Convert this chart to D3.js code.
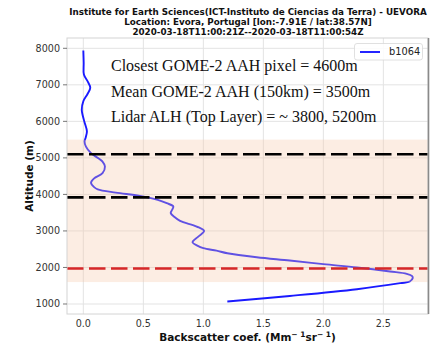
<!DOCTYPE html>
<html>
<head>
<meta charset="utf-8">
<script src="https://cdn.jsdelivr.net/npm/d3@7"></script>
<style>
  html, body { margin: 0; padding: 0; background: #fff; }
  svg { display: block; }
</style>
</head>
<body>
<svg id="chart" width="435" height="344"></svg>
<script>
// Lidar backscatter profile at 1064 nm, Evora
const altitude = [7940, 7600, 7280, 7100, 6920, 6750, 6550, 6320, 6000, 5730, 5560, 5450, 5310, 5130,
  4900, 4760, 4580, 4440, 4320, 4200, 4140, 4050, 3960, 3850, 3760, 3670, 3580, 3490, 3380, 3275,
  3120, 3000, 2845, 2690, 2600, 2530, 2460, 2390, 2280, 2190, 2090, 2000, 1890, 1825, 1760, 1710,
  1615, 1570, 1405, 1220, 1070];
const backscatter = [0.00, 0.003, 0.005, 0.035, 0.058, 0.035, 0.00, -0.013, 0.008, 0.03, 0.02, 0.01, 0.022, 0.064,
  0.16, 0.18, 0.16, 0.09, 0.064, 0.09, 0.12, 0.27, 0.47, 0.62, 0.695, 0.75, 0.74, 0.728, 0.76, 0.806,
  0.945, 1.006, 0.958, 0.91, 0.95, 1.0, 1.11, 1.2, 1.445, 1.72, 2.0, 2.28, 2.556, 2.695, 2.74, 2.745,
  2.72, 2.64, 2.28, 1.72, 1.2];
const seriesName = "b1064";

// Aerosol layer band and reference heights
const layerBand = [1600, 5500];
const layerTops = [5100, 3920];
const gomeHeight = [1970];

const xTicks = [0.0, 0.5, 1.0, 1.5, 2.0, 2.5];
const yTicks = [1000, 2000, 3000, 4000, 5000, 6000, 7000, 8000];

const titleLines = [
  "Institute for Earth Sciences(ICT-Instituto de Ciencias da Terra) - UEVORA",
  "Location: Evora, Portugal [lon:-7.91E / lat:38.57N]",
  "2020-03-18T11:00:21Z--2020-03-18T11:00:54Z"
];
const notes = [
  "Closest GOME-2 AAH pixel = 4600m",
  "Mean GOME-2 AAH (150km) = 3500m",
  "Lidar ALH (Top Layer) = ~ 3800, 5200m"
];

const svg = d3.select("#chart");
const plot = { left: 67, right: 428, top: 38, bottom: 314 };

const x = d3.scaleLinear().domain([-0.136, 2.872]).range([plot.left, plot.right]);
const y = d3.scaleLinear().domain([726, 8282]).range([plot.bottom, plot.top]);

const sans = "'DejaVu Sans', sans-serif";

// Grid
const grid = svg.append("g");
grid.selectAll("line.gx").data(xTicks).join("line")
  .attr("x1", d => x(d)).attr("x2", d => x(d))
  .attr("y1", plot.top).attr("y2", plot.bottom)
  .attr("stroke", "#e3e3e3").attr("stroke-width", 1);
grid.selectAll("line.gy").data(yTicks).join("line")
  .attr("x1", plot.left).attr("x2", plot.right)
  .attr("y1", d => y(d)).attr("y2", d => y(d))
  .attr("stroke", "#e3e3e3").attr("stroke-width", 1);

// Profile line
const pts = altitude.map((a, i) => ({ a, v: backscatter[i] }));
const line = d3.line().x(d => x(d.v)).y(d => y(d.a)).curve(d3.curveCatmullRom.alpha(0.5));
svg.append("path").datum(pts)
  .attr("d", line)
  .attr("fill", "none")
  .attr("stroke", "#1a1aff")
  .attr("stroke-width", 1.9)
  .attr("stroke-linejoin", "round");

// Shaded layer band, drawn over the profile
svg.append("rect")
  .attr("x", plot.left).attr("width", plot.right - plot.left)
  .attr("y", y(layerBand[1])).attr("height", y(layerBand[0]) - y(layerBand[1]))
  .attr("fill", "#f7c8a8").attr("fill-opacity", 0.32);

// Dashed reference lines
svg.selectAll("line.top").data(layerTops).join("line")
  .attr("x1", plot.left).attr("x2", plot.right)
  .attr("y1", d => y(d)).attr("y2", d => y(d))
  .attr("stroke", "#000").attr("stroke-width", 2.6)
  .attr("stroke-dasharray", "16.5,5.5");
svg.selectAll("line.gome").data(gomeHeight).join("line")
  .attr("x1", plot.left).attr("x2", plot.right)
  .attr("y1", d => y(d)).attr("y2", d => y(d))
  .attr("stroke", "#d62728").attr("stroke-width", 2.6)
  .attr("stroke-dasharray", "16.5,5.5");

// Frame
svg.append("rect")
  .attr("x", plot.left).attr("y", plot.top)
  .attr("width", plot.right - plot.left).attr("height", plot.bottom - plot.top)
  .attr("fill", "none").attr("stroke", "#d4d4d4").attr("stroke-width", 1);
svg.append("line")
  .attr("x1", plot.right + 0.5).attr("x2", plot.right + 0.5)
  .attr("y1", plot.top).attr("y2", plot.bottom)
  .attr("stroke", "#8a8a8a").attr("stroke-width", 1.6);

// Y axis ticks and labels
const yAxis = svg.append("g");
yAxis.selectAll("line").data(yTicks).join("line")
  .attr("x1", plot.left - 4).attr("x2", plot.left)
  .attr("y1", d => y(d)).attr("y2", d => y(d))
  .attr("stroke", "#555").attr("stroke-width", 0.8);
yAxis.selectAll("text").data(yTicks).join("text")
  .attr("x", plot.left - 7).attr("y", d => y(d))
  .attr("dy", "0.36em").attr("text-anchor", "end")
  .attr("font-family", sans).attr("font-size", 9.6).attr("fill", "#333")
  .text(d => d);

// X axis labels
svg.append("g").selectAll("text").data(xTicks).join("text")
  .attr("x", d => x(d)).attr("y", 327)
  .attr("text-anchor", "middle")
  .attr("font-family", sans).attr("font-size", 9.6).attr("fill", "#333")
  .text(d => d3.format(".1f")(d));

// Axis titles
svg.append("text")
  .attr("transform", "translate(33,176) rotate(-90)")
  .attr("text-anchor", "middle")
  .attr("font-family", sans).attr("font-weight", "bold").attr("font-size", 10.5).attr("fill", "#111")
  .text("Altitude (m)");
const xt = svg.append("text")
  .attr("x", 247.5).attr("y", 341)
  .attr("text-anchor", "middle")
  .attr("font-family", sans).attr("font-weight", "bold").attr("font-size", 10.5).attr("fill", "#111");
xt.append("tspan").text("Backscatter coef. (Mm");
xt.append("tspan").attr("font-size", 7.5).attr("dy", -4).text("\u2212 1");
xt.append("tspan").attr("dy", 4).text("sr");
xt.append("tspan").attr("font-size", 7.5).attr("dy", -4).text("\u2212 1");
xt.append("tspan").attr("dy", 4).text(")");

// Title block
const titleY = [11.5, 21.5, 31.5];
const titleW = [358, 247, 218];
titleLines.forEach((t, i) => {
  const el = svg.append("text")
    .attr("x", 248).attr("y", titleY[i]).attr("dy", "0.35em")
    .attr("text-anchor", "middle")
    .attr("font-family", sans).attr("font-weight", "bold").attr("font-size", 10).attr("fill", "#111")
    .text(t);
  const w = el.node().getComputedTextLength();
  if (i === 0) el.attr("font-size", 10 * titleW[0] / w);
});
// keep all title lines at the same size as the first
const fs0 = +svg.selectAll("text").filter(function () { return this.textContent === titleLines[0]; }).attr("font-size");
svg.selectAll("text").filter(function () { return titleLines.includes(this.textContent); }).attr("font-size", fs0);

// Annotation text
const noteY = [71, 96.5, 121.5];
notes.forEach((t, i) => {
  svg.append("text")
    .attr("x", 111).attr("y", noteY[i])
    .attr("font-family", "'Liberation Serif', 'Times New Roman', serif")
    .attr("font-size", 16).attr("fill", "#111")
    .text(t);
});

// Legend
const lg = svg.append("g");
lg.append("rect")
  .attr("x", 354.5).attr("y", 43.5).attr("width", 68).attr("height", 16.5)
  .attr("rx", 2.5).attr("fill", "#fff").attr("fill-opacity", 0.85)
  .attr("stroke", "#d8d8d8").attr("stroke-width", 0.8);
lg.append("line")
  .attr("x1", 360).attr("x2", 380).attr("y1", 52).attr("y2", 52)
  .attr("stroke", "#1a1aff").attr("stroke-width", 1.9);
lg.append("text")
  .attr("x", 389).attr("y", 52).attr("dy", "0.35em")
  .attr("font-family", sans).attr("font-size", 9.8).attr("fill", "#222")
  .text(seriesName);
</script>
</body>
</html>
